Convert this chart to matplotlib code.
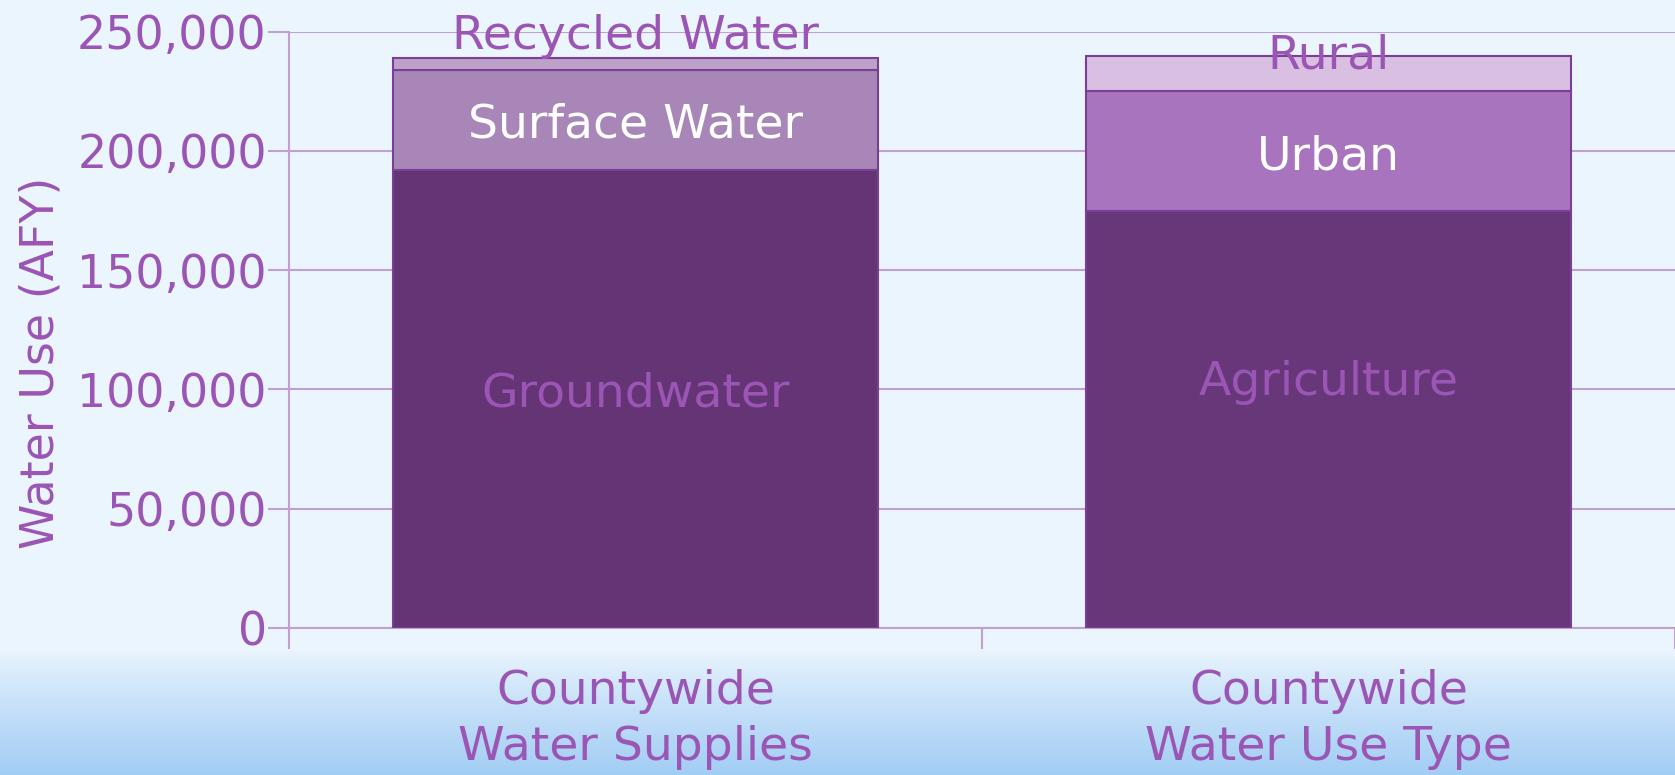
import matplotlib.pyplot as plt
import numpy as np
from matplotlib import colors

categories = ["Countywide\nWater Supplies", "Countywide\nWater Use Type"]

# segments stacked bottom -> top for each bar
supply_names = ["Groundwater", "Surface Water", "Recycled Water"]
supply_values = [192000, 42000, 5000]
use_names = ["Agriculture", "Urban", "Rural"]
use_values = [175000, 50000, 15000]

yticks = [0, 50000, 100000, 150000, 200000, 250000]

supply_colors = ["#653474", "#A986B8", "#BCA2C9"]
use_colors = ["#68377A", "#A874BD", "#D9BFE2"]
text_purple = "#9B55B5"
grid_purple = "#BFA0CF"

# where the segment names sit (y in data units), as placed in the original
supply_label_y = [98000, 211000, 248000]
use_label_y = [103000, 197500, 240000]
label_colors = [text_purple, "white", text_purple]

plt.rcParams['font.family'] = ['DejaVu Sans']

fig = plt.figure(figsize=(16.75, 7.75), dpi=100)

# background: pale blue with gradient at the bottom
bg = fig.add_axes([0, 0, 1, 1], zorder=-10)
h = 775
top_c = np.array(colors.to_rgb("#EBF5FE"))
bot_c = np.array(colors.to_rgb("#A2CDF4"))
t = np.clip((np.arange(h) - 650) / (h - 650), 0, 1) ** 0.85
grad = top_c[None, :] * (1 - t[:, None]) + bot_c[None, :] * t[:, None]
bg.imshow(grad[:, None, :], aspect="auto", extent=[0, 1, 0, 1], origin="upper")
bg.axis("off")

ax = fig.add_axes([0.1725, 0.19, 0.8275, 0.769])
ax.patch.set_alpha(0)

x = np.arange(len(categories))
width = 0.70

for i, (vals, cols, names, ly) in enumerate([
        (supply_values, supply_colors, supply_names, supply_label_y),
        (use_values, use_colors, use_names, use_label_y)]):
    bottom = 0
    for v, c in zip(vals, cols):
        ax.bar(x[i], v, width, bottom=bottom, color=c, edgecolor="#7A3E94",
               linewidth=1.5, zorder=3)
        bottom += v
    for n, yy, tc in zip(names, ly, label_colors):
        ax.text(x[i], yy, n, ha="center", va="center", color=tc,
                fontsize=34, zorder=4, clip_on=False)

ax.set_xlim(-0.5, 1.5)
ax.set_ylim(0, 250000)
ax.set_yticks(yticks)
ax.set_yticklabels([f"{v:,}" for v in yticks])
ax.set_xticks([-0.5, 0.5, 1.5])
ax.set_xticklabels([])
ax.set_xticks(x, minor=True)
ax.set_xticklabels(categories, minor=True)
ax.tick_params(axis="x", which="minor", length=0, pad=30, labelsize=34,
               labelcolor=text_purple)
ax.tick_params(axis="x", which="major", length=15, width=1.5, color=grid_purple)
ax.tick_params(axis="y", length=15, width=1.5, color=grid_purple, labelsize=33,
               labelcolor=text_purple, pad=1)
for lbl in ax.get_xticklabels(minor=True):
    lbl.set_linespacing(1.3)

ax.grid(axis="y", color=grid_purple, linewidth=1.5, zorder=0)
ax.set_axisbelow(True)
for s in ["top", "right"]:
    ax.spines[s].set_visible(False)
for s in ["left", "bottom"]:
    ax.spines[s].set_color(grid_purple)
    ax.spines[s].set_linewidth(1.5)

ax.set_ylabel("Water Use (AFY)", fontsize=33, color=text_purple)
ax.yaxis.set_label_coords(-0.163, 0.444)

fig.savefig("out.png", dpi=100)
